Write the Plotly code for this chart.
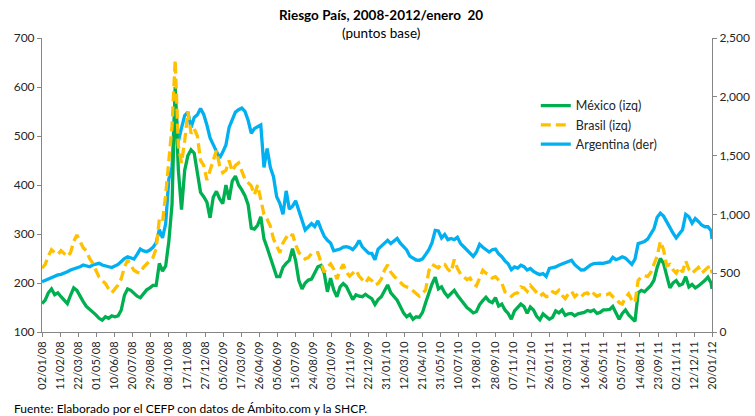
import pandas as pd
import plotly.graph_objects as go

# Weekly sample dates (every 7 days from 02/01/2008) plus the final date 20/01/2012
sample_dates = list(pd.date_range("2008-01-02", periods=212, freq="7D").strftime("%Y-%m-%d")) + ["2012-01-20"]

mexico = [
    158, 165, 180, 188, 176, 180, 172, 165, 158, 175, 190, 185, 172, 162, 152, 147, 140, 135, 128, 124,
    131, 128, 133, 131, 133, 145, 175, 188, 185, 178, 173, 170, 178, 186, 190, 195,
    195, 240, 224, 235, 285, 360, 600, 430, 350, 430, 460, 472, 465, 420, 385, 376, 365, 333, 375, 387,
    372, 362, 400, 370, 408, 418, 400, 390, 378, 360, 312, 310, 318, 335, 290,
    272, 253, 233, 213, 213, 232, 240, 246, 270, 245, 205, 188, 200, 206, 208, 220, 233, 236, 220, 182,
    210, 186, 172, 192, 199, 193, 180, 166, 176, 173, 172, 177, 172, 168, 156,
    166, 172, 185, 196, 180, 172, 165, 152, 139, 131, 136, 126, 131, 130, 140, 160, 180, 198, 212, 188,
    192, 180, 172, 178, 185, 175, 167, 160, 150, 145, 139, 142, 156, 164, 171,
    163, 160, 170, 153, 157, 145, 138, 126, 143, 151, 157, 152, 138, 151, 145, 132, 125, 137, 132, 126,
    130, 143, 139, 145, 134, 137, 138, 133, 137, 138, 140, 144, 142, 145,
    138, 140, 145, 145, 146, 152, 138, 126, 138, 145, 135, 128, 122, 180, 185, 182, 188, 195, 206, 232,
    250, 240, 215, 190, 200, 205, 195, 198, 213, 192, 197, 190, 194, 199, 205, 212, 200, 188,
]

brasil = [
    230, 238, 255, 268, 262, 258, 266, 260, 254, 262, 285, 298, 285, 272, 265, 250, 240, 225, 212, 205,
    199, 188, 180, 188, 196, 209, 232, 247, 235, 226, 222, 220, 232, 238, 245, 252,
    270, 330, 325, 380, 450, 520, 655, 480, 445, 490, 550, 505, 515, 500, 450, 440, 410, 430, 445, 470,
    440, 425, 430, 450, 428, 440, 445, 428, 412, 405, 398, 380, 400, 370, 340,
    330, 316, 290, 275, 262, 282, 293, 289, 300, 278, 262, 255, 249, 252, 260, 262, 262, 242, 222, 233,
    239, 228, 208, 226, 238, 222, 214, 220, 226, 214, 206, 200, 210, 205, 196,
    199, 208, 226, 237, 222, 214, 207, 200, 195, 192, 190, 184, 178, 173, 179, 186, 225, 238, 234, 231,
    240, 238, 228, 222, 248, 230, 218, 212, 207, 210, 199, 194, 212, 226, 220,
    216, 210, 213, 206, 200, 182, 180, 173, 178, 180, 192, 190, 183, 195, 188, 180, 173, 178, 172, 173,
    182, 179, 185, 175, 168, 178, 183, 172, 178, 172, 178, 180, 172, 178,
    173, 176, 175, 176, 179, 172, 168, 160, 157, 170, 178, 165, 160, 205, 213, 215, 213, 222, 238, 255,
    285, 268, 235, 238, 227, 220, 232, 222, 245, 228, 220, 226, 232, 220, 226, 232, 235, 220,
]

argentina = [
    428, 440, 452, 462, 470, 485, 490, 499, 512, 527, 535, 541, 555, 570, 560, 555, 570, 580, 584, 570,
    560, 555, 548, 560, 575, 600, 625, 640, 630, 620, 660, 705, 690, 683, 697, 720,
    760, 870, 800, 920, 1300, 1400, 1990, 1620, 1735, 1840, 1870, 1740, 1825, 1848, 1900, 1850, 1760, 1650,
    1593, 1540, 1480, 1530, 1590, 1740, 1810, 1870, 1890, 1905, 1876, 1800, 1690, 1730, 1745, 1760, 1400,
    1560, 1400, 1320, 1150, 1095, 1000, 1200, 1045, 1070, 1115, 1035, 950, 868, 895, 922, 897, 945, 875,
    815, 780, 756, 690, 697, 705, 722, 725, 718, 700, 730, 778, 724, 696, 670, 668, 615,
    705, 730, 760, 780, 752, 770, 795, 755, 725, 698, 645, 628, 612, 610, 622, 660, 700, 760, 865, 860,
    800, 830, 785, 795, 785, 805, 752, 725, 697, 670, 642, 680, 745, 720, 697,
    680, 700, 705, 665, 640, 605, 580, 530, 553, 543, 568, 555, 527, 540, 515, 500, 488, 497, 472, 540,
    545, 553, 568, 580, 585, 600, 610, 572, 545, 527, 528, 553, 570, 582,
    580, 585, 584, 590, 598, 635, 615, 625, 640, 628, 600, 575, 620, 752, 760, 770, 790, 830, 880, 975,
    1010, 985, 930, 890, 840, 800, 835, 870, 1000, 980, 925, 965, 940, 910, 895, 895, 860, 790,
]

# x-axis tick dates (every 40 days, plus the last date)
tick_dates = list(pd.date_range("2008-01-02", "2012-01-20", freq="40D")) + [pd.Timestamp("2012-01-20")]
tick_labels = [d.strftime("%d/%m/%y") for d in tick_dates]
left_ticks = [100, 200, 300, 400, 500, 600, 700]
right_ticks = [0, 500, 1000, 1500, 2000, 2500]

FONT = "Lato"
TXT = "#262626"
AX = "#868686"

fig = go.Figure()
fig.add_trace(go.Scatter(
    x=sample_dates, y=argentina, name="Argentina (der)", mode="lines",
    line=dict(color="#00B0F0", width=3.3), yaxis="y", legendrank=3,
))
fig.add_trace(go.Scatter(
    x=sample_dates, y=mexico, name="México (izq)", mode="lines",
    line=dict(color="#00B050", width=3.3), yaxis="y2", legendrank=1,
))
fig.add_trace(go.Scatter(
    x=sample_dates, y=brasil, name="Brasil (izq)", mode="lines",
    line=dict(color="#FFC000", width=3.3, dash="10px,5px"), yaxis="y2", legendrank=2,
))

fig.update_layout(
    width=755, height=416,
    margin=dict(l=42, r=43, t=38, b=84, autoexpand=False),
    paper_bgcolor="white", plot_bgcolor="white",
    font=dict(family=FONT, size=12, color=TXT),
    showlegend=True,
    legend=dict(x=0.737, y=0.82, xanchor="left", yanchor="top",
                bgcolor="rgba(0,0,0,0)", font=dict(size=12.5, color=TXT),
                tracegroupgap=0),
    xaxis=dict(
        type="date", range=["2008-01-02", "2012-01-20"], automargin=False,
        tickmode="array", tickvals=tick_dates, ticktext=tick_labels,
        tickangle=-90, tickfont=dict(size=11, color=TXT),
        showline=True, linecolor=AX, linewidth=1,
        ticks="outside", ticklen=4, tickcolor=AX,
        showgrid=False, zeroline=False,
    ),
    yaxis=dict(
        side="right", range=[0, 2500], tickmode="array", tickvals=right_ticks, automargin=False,
        tickformat=",", tickfont=dict(size=12, color=TXT),
        showline=True, linecolor=AX, linewidth=1,
        ticks="outside", ticklen=4, tickcolor=AX,
        showgrid=False, zeroline=False,
    ),
    yaxis2=dict(
        side="left", overlaying="y", range=[100, 700], tickmode="array", tickvals=left_ticks,
        automargin=False, tickfont=dict(size=12, color=TXT),
        showline=True, linecolor=AX, linewidth=1,
        ticks="outside", ticklen=4, tickcolor=AX,
        showgrid=False, zeroline=False,
    ),
    annotations=[
        dict(text="<b>Riesgo País, 2008-2012/enero  20</b>", xref="paper", yref="paper",
             x=0.506, y=(332 - 15) / 294, xanchor="center", yanchor="middle",
             showarrow=False, font=dict(size=13.5, color="black", family=FONT)),
        dict(text="(puntos base)", xref="paper", yref="paper",
             x=0.506, y=(332 - 33) / 294, xanchor="center", yanchor="middle",
             showarrow=False, font=dict(size=13.5, color="black", family=FONT)),
        dict(text="Fuente: Elaborado por el CEFP con datos de Ámbito.com y la SHCP.",
             xref="paper", yref="paper", x=(12 - 42) / 670, y=(332 - 408) / 294,
             xanchor="left", yanchor="middle", showarrow=False,
             font=dict(size=12, color="black", family=FONT)),
    ],
)

fig.write_html(
    "out.html",
    config={"displayModeBar": False},
    post_script="document.body.style.margin='0';document.body.style.overflow='hidden';",
)
